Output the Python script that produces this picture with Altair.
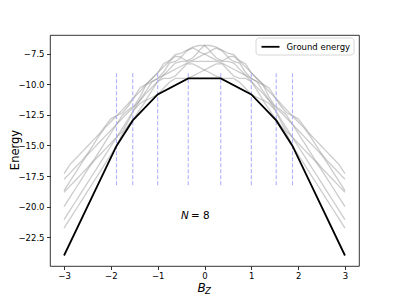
import altair as alt
import pandas as pd

# Bz sample points (-3 .. 3)
bz_grid = [-3.0, -2.875, -2.75, -2.625, -2.5, -2.375, -2.25, -2.125, -2.0, -1.875, -1.75, -1.625,
           -1.5, -1.375, -1.25, -1.125, -1.0, -0.875, -0.75, -0.625, -0.5, -0.375, -0.25, -0.125,
           0.0, 0.125, 0.25, 0.375, 0.5, 0.625, 0.75, 0.875, 1.0, 1.125, 1.25, 1.375, 1.5, 1.625,
           1.75, 1.875, 2.0, 2.125, 2.25, 2.375, 2.5, 2.625, 2.75, 2.875, 3.0]

# Excited levels (gray), one list per level, values along bz_grid
level_1 = [-21.759, -21.009, -20.259, -19.509, -18.759, -18.009, -17.259, -16.509, -15.759, -15.000,
           -14.000, -13.323, -12.759, -12.009, -11.323, -11.073, -10.823, -10.323, -9.823, -9.518,
           -9.518, -9.518, -9.323, -9.073, -8.823, -9.073, -9.323, -9.518, -9.518, -9.518, -9.823,
           -10.323, -10.823, -11.073, -11.323, -12.009, -12.759, -13.323, -14.000, -15.000, -15.759,
           -16.509, -17.259, -18.009, -18.759, -19.509, -20.259, -21.009, -21.759]
level_2 = [-21.064, -20.314, -19.564, -18.814, -18.064, -17.314, -16.564, -15.814, -15.064, -14.323,
           -13.823, -13.000, -12.064, -11.573, -11.259, -10.509, -9.759, -9.518, -9.518, -9.323,
           -8.823, -8.323, -8.323, -8.573, -8.823, -8.573, -8.323, -8.323, -8.823, -9.323, -9.518,
           -9.518, -9.759, -10.509, -11.259, -11.573, -12.064, -13.000, -13.823, -14.323, -15.064,
           -15.814, -16.564, -17.314, -18.064, -18.814, -19.564, -20.314, -21.064]
level_3 = [-20.000, -19.250, -18.500, -17.750, -17.000, -16.323, -15.823, -15.323, -14.823, -14.314,
           -13.564, -12.814, -12.000, -11.314, -10.759, -10.259, -9.759, -9.268, -9.018, -8.768,
           -8.518, -8.268, -8.128, -8.128, -8.128, -8.128, -8.128, -8.268, -8.518, -8.768, -9.018,
           -9.268, -9.759, -10.259, -10.759, -11.314, -12.000, -12.814, -13.564, -14.314, -14.823,
           -15.323, -15.823, -16.323, -17.000, -17.750, -18.500, -19.250, -20.000]
level_4 = [-18.823, -18.323, -17.823, -17.323, -16.823, -16.250, -15.500, -14.750, -14.000, -13.259,
           -12.759, -12.259, -11.823, -11.259, -10.564, -9.814, -9.518, -9.259, -8.759, -8.259,
           -8.128, -8.128, -8.018, -7.768, -7.518, -7.768, -8.018, -8.128, -8.128, -8.259, -8.759,
           -9.259, -9.518, -9.814, -10.564, -11.259, -11.823, -12.259, -12.759, -13.259, -14.000,
           -14.750, -15.500, -16.250, -16.823, -17.323, -17.823, -18.323, -18.823]
level_5 = [-18.695, -17.945, -17.195, -16.445, -15.759, -15.259, -14.759, -14.259, -13.759, -13.250,
           -12.500, -12.073, -11.759, -11.000, -10.064, -9.768, -9.518, -9.009, -8.259, -8.128,
           -7.823, -8.073, -7.823, -7.323, -7.518, -7.323, -7.823, -8.073, -7.823, -8.128, -8.259,
           -9.009, -9.518, -9.768, -10.064, -11.000, -11.759, -12.073, -12.500, -13.250, -13.759,
           -14.259, -14.759, -15.259, -15.759, -16.445, -17.195, -17.945, -18.695]
level_6 = [-17.759, -17.259, -16.759, -16.259, -15.695, -14.945, -14.195, -13.564, -13.064, -12.573,
           -12.323, -11.750, -11.064, -10.564, -10.018, -9.564, -9.064, -8.564, -8.128, -7.704,
           -7.759, -7.259, -7.018, -7.268, -6.823, -7.268, -7.018, -7.259, -7.759, -7.704, -8.128,
           -8.564, -9.064, -9.564, -10.018, -10.564, -11.064, -11.750, -12.323, -12.573, -13.064,
           -13.564, -14.195, -14.945, -15.695, -16.259, -16.759, -17.259, -17.759]
level_7 = [-17.305, -16.564, -16.064, -15.564, -15.064, -14.564, -14.064, -13.445, -12.823, -12.564,
           -12.064, -11.564, -11.000, -10.268, -10.000, -9.518, -9.064, -8.314, -8.064, -7.573,
           -7.454, -7.204, -6.954, -6.823, -6.823, -6.823, -6.954, -7.204, -7.454, -7.573, -8.064,
           -8.314, -9.064, -9.518, -10.000, -10.268, -11.000, -11.564, -12.064, -12.564, -12.823,
           -13.445, -14.064, -14.564, -15.064, -15.564, -16.064, -16.564, -17.305]
gray_levels = [level_1, level_2, level_3, level_4, level_5, level_6, level_7]

# Ground energy (black)
ground_bz = [-3.0, -1.8795, -1.532, -1.0, -0.3475, 0.3475, 1.0, 1.532, 1.8795, 3.0]
ground_e = [-24.0, -15.036, -12.951, -10.823, -9.518, -9.518, -10.823, -12.951, -15.036, -24.0]
ground_name = "Ground energy"

# Level-crossing fields (dashed)
crit_bz = [-1.8795, -1.532, -1.0, -0.3475, 0.3475, 1.0, 1.532, 1.8795]
crit_lo = -18.25
crit_hi = -9.0

x_ticks = [-3, -2, -1, 0, 1, 2, 3]
y_ticks = [-22.5, -20.0, -17.5, -15.0, -12.5, -10.0, -7.5]
x_domain = [-3.3, 3.3]
y_domain = [-24.859, -5.964]

annot_x = -0.5
annot_y = -21.0

FONT = "DejaVu Sans"

gray_df = pd.DataFrame([
    {"bz": b, "E": e, "level": i}
    for i, lvl in enumerate(gray_levels) for b, e in zip(bz_grid, lvl)
])
ground_df = pd.DataFrame({"bz": ground_bz, "E": ground_e})
crit_df = pd.DataFrame({"bz": crit_bz, "E": [crit_lo] * len(crit_bz), "E2": [crit_hi] * len(crit_bz)})
annot_df = pd.DataFrame({"bz": [annot_x], "E": [annot_y]})

X = alt.X("bz:Q", scale=alt.Scale(domain=x_domain, nice=False, zero=False),
          axis=alt.Axis(values=x_ticks, format="d", title=None, labelPadding=1.5))
Y = alt.Y("E:Q", scale=alt.Scale(domain=y_domain, nice=False, zero=False),
          axis=alt.Axis(values=y_ticks, format=".1f", title="Energy", labelPadding=2.5,
                        titleX=-35, titleY=114.5, titleBaseline="middle", titleAngle=270,
                        titleFontSize=11.5, titleFont=FONT, titleFontWeight="normal",
                        titleColor="black"))

gray = alt.Chart(gray_df).mark_line(color="gray", opacity=0.4, strokeWidth=1.3).encode(
    x=X, y=Y, detail="level:N")

dashed = alt.Chart(crit_df).mark_rule(color="#b0b0ff", strokeDash=[4, 2], strokeWidth=1.1).encode(
    x=X, y=Y, y2="E2:Q")

ground = alt.Chart(ground_df).mark_line(strokeWidth=1.8, color="black").encode(x=X, y=Y)

n_text = alt.Chart(annot_df).mark_text(text="N", align="left", baseline="alphabetic",
                                       fontStyle="italic", fontSize=10.4, font=FONT,
                                       color="black").encode(x=X, y=Y)
eq_text = alt.Chart(annot_df).mark_text(text="= 8", align="left", baseline="alphabetic",
                                        fontSize=10.4, font=FONT, dx=10,
                                        color="black").encode(x=X, y=Y)

# Legend (box, sample line, label)
one = pd.DataFrame({"t": [ground_name]})
leg_box = alt.Chart(one).mark_rect(fill="white", stroke="#cccccc", strokeWidth=0.8,
                                   cornerRadius=3).encode(
    x=alt.value(206), x2=alt.value(304), y=alt.value(3), y2=alt.value(20))
leg_line = alt.Chart(one).mark_rule(color="black", strokeWidth=1.8).encode(
    x=alt.value(211.5), x2=alt.value(229.5), y=alt.value(11.8))
leg_text = alt.Chart(one).mark_text(align="left", baseline="middle", fontSize=8.5, font=FONT,
                                    color="black").encode(
    x=alt.value(236.5), y=alt.value(12), text="t:N")

xl_df = pd.DataFrame({"t": ["B"]})
xs_df = pd.DataFrame({"t": ["Z"]})
xlab_b = alt.Chart(xl_df).mark_text(align="left", baseline="alphabetic", fontStyle="italic",
                                    fontSize=12, font=FONT, color="black").encode(
    x=alt.value(147.5), y=alt.value(256.5), text="t:N")
xlab_z = alt.Chart(xs_df).mark_text(align="left", baseline="alphabetic", fontStyle="italic",
                                    fontSize=8.5, font=FONT, color="black").encode(
    x=alt.value(155), y=alt.value(258.5), text="t:N")

chart = alt.layer(gray, dashed, ground, n_text, eq_text, leg_box, leg_line, leg_text,
                  xlab_b, xlab_z).properties(
    width=309, height=231,
    autosize=alt.AutoSizeParams(type="none"),
    padding={"left": 42, "top": 27, "right": 32, "bottom": 31},
).configure_view(stroke="black", strokeWidth=0.8).configure_axis(
    labelFont=FONT, labelFontSize=8.5, labelColor="black", tickColor="black",
    tickWidth=0.8, tickSize=3.5, domain=False, grid=False,
)

chart.save("out.html", embed_options={"renderer": "svg", "actions": False})
